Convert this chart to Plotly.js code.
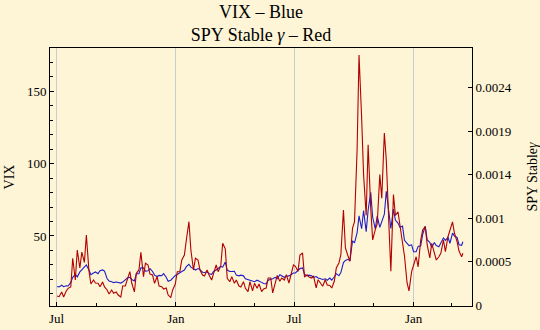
<!DOCTYPE html>
<html><head><meta charset="utf-8">
<script src="https://cdn.plot.ly/plotly-3.0.1.min.js"></script>
<style>html,body{margin:0;padding:0;background:#fef4d6;} #chart{width:540px;height:330px;}</style>
</head><body><div id="chart"></div>
<script>
// Sample dates (twice weekly)
const dates = [
'2007-07-02','2007-07-05','2007-07-09','2007-07-12','2007-07-16','2007-07-19','2007-07-23','2007-07-26','2007-07-30','2007-08-02',
'2007-08-06','2007-08-09','2007-08-13','2007-08-16','2007-08-20','2007-08-23','2007-08-27','2007-08-30','2007-09-03','2007-09-06',
'2007-09-10','2007-09-13','2007-09-17','2007-09-20','2007-09-24','2007-09-27','2007-10-01','2007-10-04','2007-10-08','2007-10-11',
'2007-10-15','2007-10-18','2007-10-22','2007-10-25','2007-10-29','2007-11-01','2007-11-05','2007-11-08','2007-11-12','2007-11-15',
'2007-11-19','2007-11-22','2007-11-26','2007-11-29','2007-12-03','2007-12-06','2007-12-10','2007-12-13','2007-12-17','2007-12-20',
'2007-12-24','2007-12-27','2007-12-31','2008-01-03','2008-01-07','2008-01-10','2008-01-14','2008-01-17','2008-01-21','2008-01-24',
'2008-01-28','2008-01-31','2008-02-04','2008-02-07','2008-02-11','2008-02-14','2008-02-18','2008-02-21','2008-02-25','2008-02-28',
'2008-03-03','2008-03-06','2008-03-10','2008-03-13','2008-03-17','2008-03-20','2008-03-24','2008-03-27','2008-03-31','2008-04-03',
'2008-04-07','2008-04-10','2008-04-14','2008-04-17','2008-04-21','2008-04-24','2008-04-28','2008-05-01','2008-05-05','2008-05-08',
'2008-05-12','2008-05-15','2008-05-19','2008-05-22','2008-05-26','2008-05-29','2008-06-02','2008-06-05','2008-06-09','2008-06-12',
'2008-06-16','2008-06-19','2008-06-23','2008-06-26','2008-06-30','2008-07-03','2008-07-07','2008-07-10','2008-07-14','2008-07-17',
'2008-07-21','2008-07-24','2008-07-28','2008-07-31','2008-08-04','2008-08-07','2008-08-11','2008-08-14','2008-08-18','2008-08-21',
'2008-08-25','2008-08-28','2008-09-01','2008-09-04','2008-09-08','2008-09-11','2008-09-15','2008-09-18','2008-09-22','2008-09-25',
'2008-09-29','2008-10-02','2008-10-06','2008-10-09','2008-10-13','2008-10-16','2008-10-20','2008-10-23','2008-10-27','2008-10-30',
'2008-11-03','2008-11-06','2008-11-10','2008-11-13','2008-11-17','2008-11-20','2008-11-24','2008-11-27','2008-12-01','2008-12-04',
'2008-12-08','2008-12-11','2008-12-15','2008-12-18','2008-12-22','2008-12-25','2008-12-29','2009-01-01','2009-01-05','2009-01-08',
'2009-01-12','2009-01-15','2009-01-19','2009-01-22','2009-01-26','2009-01-29','2009-02-02','2009-02-05','2009-02-09','2009-02-12',
'2009-02-16','2009-02-19','2009-02-23','2009-02-26','2009-03-02','2009-03-05','2009-03-09','2009-03-12','2009-03-16','2009-03-18'
];

// VIX (blue, left axis)
const vix = [
15.2,14.9,16.0,15.0,15.6,15.5,18.0,21.5,23.5,21.8,
25.2,26.5,28.5,30.0,26.6,23.3,24.5,25.2,24.0,26.0,
26.6,25.8,20.5,19.0,18.5,17.8,18.2,17.9,17.5,18.2,
19.8,21.0,21.5,20.0,19.0,24.0,24.0,28.0,28.0,25.8,
26.0,27.5,25.5,23.0,22.0,22.8,22.6,24.0,21.5,18.8,
19.5,21.0,22.8,23.5,25.0,25.5,26.5,28.8,30.5,28.5,
27.5,26.5,27.5,26.8,25.0,24.8,25.3,24.0,23.5,25.5,
26.5,27.5,29.0,28.5,32.0,26.5,25.5,25.5,25.6,23.0,
22.5,23.0,22.5,20.5,20.0,19.5,19.0,18.5,19.5,19.0,
18.0,17.2,17.0,19.5,19.8,20.5,21.5,20.5,23.3,22.5,
21.5,22.2,22.5,23.3,24.5,24.5,26.0,27.5,28.0,23.5,
22.5,23.0,22.5,21.5,22.0,21.0,20.5,20.0,20.5,19.5,
21.0,19.5,21.9,24.0,22.6,24.8,31.7,33.1,33.9,32.8,
46.7,45.3,52.1,63.9,55.0,67.6,53.0,67.8,80.1,62.9,
54.9,63.7,55.9,59.8,65.0,80.9,64.7,55.3,68.5,61.0,
58.9,56.0,56.8,47.0,44.9,43.4,43.9,39.2,39.1,42.8,
43.3,51.0,56.7,47.3,45.7,42.0,45.5,43.4,42.5,45.0,
48.6,47.0,49.0,45.0,52.0,50.0,49.0,44.0,43.6,46.0
];

// SPY stable scale parameter gamma (red, right axis)
const gamma = [
0.000100,0.000092,0.000144,0.000088,0.000155,0.000184,0.000199,0.000516,0.000276,0.000607,
0.000409,0.000585,0.000470,0.000773,0.000376,0.000232,0.000276,0.000243,0.000240,0.000202,
0.000254,0.000199,0.000166,0.000121,0.000166,0.000129,0.000144,0.000110,0.000088,0.000210,
0.000210,0.000287,0.000368,0.000240,0.000144,0.000350,0.000387,0.000582,0.000313,0.000461,
0.000442,0.000342,0.000331,0.000240,0.000313,0.000210,0.000202,0.000177,0.000188,0.000110,
0.000083,0.000166,0.000232,0.000368,0.000368,0.000497,0.000552,0.000718,0.000920,0.000607,
0.000387,0.000516,0.000497,0.000387,0.000331,0.000320,0.000387,0.000331,0.000276,0.000350,
0.000442,0.000368,0.000431,0.000681,0.000620,0.000295,0.000257,0.000313,0.000240,0.000276,
0.000210,0.000199,0.000257,0.000184,0.000147,0.000257,0.000155,0.000240,0.000184,0.000232,
0.000147,0.000177,0.000188,0.000298,0.000298,0.000133,0.000262,0.000326,0.000262,0.000298,
0.000276,0.000335,0.000243,0.000331,0.000442,0.000427,0.000372,0.000552,0.000574,0.000309,
0.000335,0.000309,0.000298,0.000317,0.000188,0.000279,0.000232,0.000207,0.000279,0.000221,
0.000215,0.000188,0.000265,0.000409,0.000464,0.000556,0.001050,0.000630,0.000541,0.000483,
0.000850,0.000917,0.001710,0.002760,0.002070,0.001440,0.000990,0.001770,0.001070,0.000718,
0.000832,0.000895,0.001440,0.001180,0.001900,0.001600,0.000887,0.000372,0.001220,0.000990,
0.001030,0.000880,0.000663,0.000541,0.000243,0.000155,0.000368,0.000442,0.000533,0.000420,
0.000718,0.000828,0.000865,0.000663,0.000519,0.000681,0.000589,0.000497,0.000533,0.000571,
0.000718,0.000589,0.000754,0.000817,0.000917,0.000792,0.000699,0.000596,0.000533,0.000571
];

const gammaTickVals = [0, 0.00048, 0.00096, 0.00144, 0.00192, 0.0024];
const gammaTickText = ['0', '0.0005', '0.001', '0.0014', '0.0019', '0.0024'];

const bg = '#fef4d6';
const serif = 'Liberation Serif, Times New Roman, serif';
const tickFont = {family: serif, size: 13, color: '#000'};

const traces = [
  {x: dates, y: gamma, yaxis: 'y2', type: 'scatter', mode: 'lines',
   line: {color: 'rgb(178,0,0)', width: 1.1}, hoverinfo: 'skip'},
  {x: dates, y: vix, yaxis: 'y', type: 'scatter', mode: 'lines',
   line: {color: 'rgb(30,30,200)', width: 1.1}, hoverinfo: 'skip'}
];

const layout = {
  width: 540, height: 330,
  paper_bgcolor: bg, plot_bgcolor: bg,
  margin: {l: 50, r: 68, t: 48, b: 24},
  showlegend: false,
  title: {
    text: 'VIX \u2013 Blue<br>SPY Stable <i>\u03b3</i> \u2013 Red',
    font: {family: serif, size: 18, color: '#000'},
    xref: 'paper', x: 0.5, xanchor: 'center',
    yref: 'container', y: 0.946, yanchor: 'top'
  },
  xaxis: {
    type: 'date', range: ['2007-06-21', '2009-04-01'],
    tickformat: '%b', dtick: 'M6', tick0: '2007-07-01',
    ticks: 'inside', ticklen: 4, tickcolor: '#000', tickwidth: 1,
    showline: true, linecolor: '#000', linewidth: 1, mirror: true,
    showgrid: true, gridcolor: '#c9cad4', gridwidth: 1, zeroline: false,
    tickfont: tickFont,
    minor: {dtick: 'M2', tick0: '2007-07-01', ticks: 'inside', ticklen: 3, tickcolor: '#000', showgrid: false}
  },
  yaxis: {
    range: [1.7, 179.7], dtick: 50, tick0: 0,
    ticks: 'inside', ticklen: 4, tickcolor: '#000',
    showline: true, linecolor: '#000', linewidth: 1,
    showgrid: false, zeroline: false, tickfont: tickFont,
    minor: {dtick: 10, tick0: 0, ticks: 'inside', ticklen: 3, tickcolor: '#000', showgrid: false},
    title: {text: 'VIX', font: {family: serif, size: 14, color: '#000'}, standoff: 9}
  },
  yaxis2: {
    overlaying: 'y', side: 'right', range: [-0.000011, 0.002838],
    tickmode: 'array', tickvals: gammaTickVals, ticktext: gammaTickText,
    ticks: 'inside', ticklen: 4, tickcolor: '#000',
    showline: true, linecolor: '#000', linewidth: 1,
    showgrid: false, zeroline: false, tickfont: tickFont,
    title: {text: 'SPY Stable<i>\u03b3</i>', font: {family: serif, size: 14, color: '#000'}, standoff: 16}
  }
};

Plotly.newPlot('chart', traces, layout, {staticPlot: true, displayModeBar: false});
</script>
</body></html>
